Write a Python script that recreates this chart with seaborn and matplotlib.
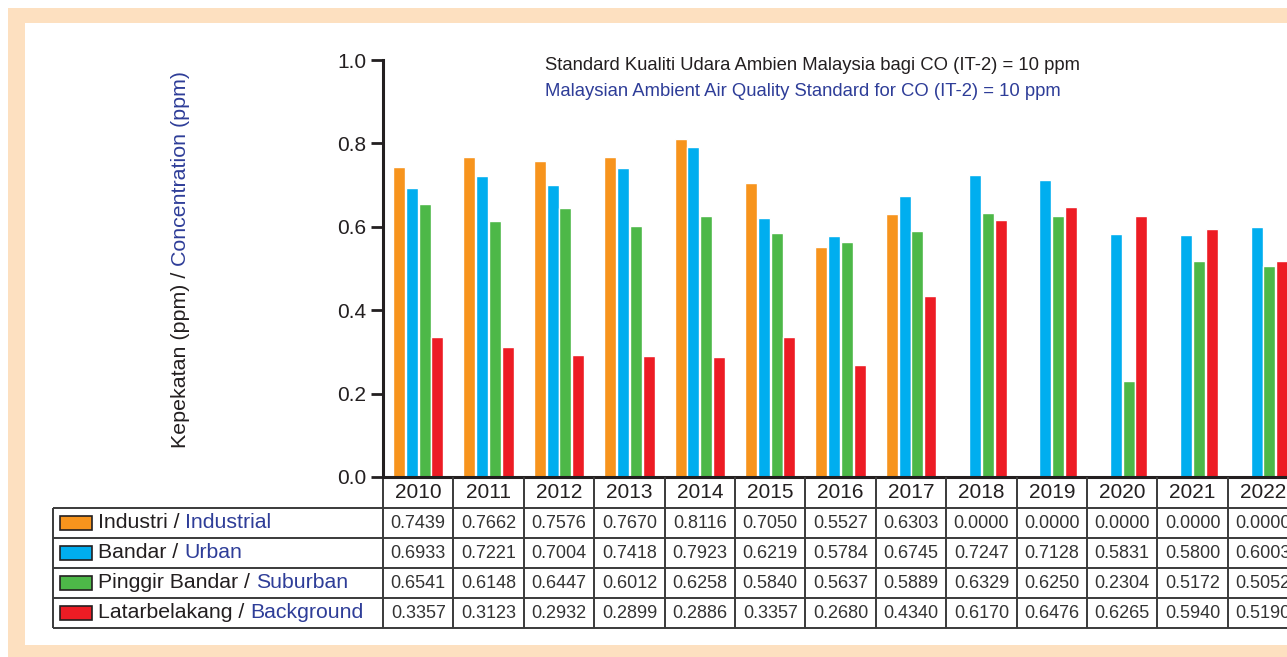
import matplotlib
matplotlib.use("Agg")
import numpy as np
import pandas as pd
import matplotlib.pyplot as plt
import seaborn as sns
from matplotlib.patches import Rectangle
from matplotlib import font_manager

sns.set_theme(style="white")
plt.rcParams["font.family"] = ["Liberation Sans", "DejaVu Sans"]

# Data (ppm CO)
years = ["2010", "2011", "2012", "2013", "2014", "2015", "2016",
         "2017", "2018", "2019", "2020", "2021", "2022"]
sites_ms = ["Industri", "Bandar", "Pinggir Bandar", "Latarbelakang"]
sites_en = ["Industrial", "Urban", "Suburban", "Background"]
industrial = [0.7439, 0.7662, 0.7576, 0.7670, 0.8116, 0.7050, 0.5527,
              0.6303, 0.0000, 0.0000, 0.0000, 0.0000, 0.0000]
urban = [0.6933, 0.7221, 0.7004, 0.7418, 0.7923, 0.6219, 0.5784,
         0.6745, 0.7247, 0.7128, 0.5831, 0.5800, 0.6003]
suburban = [0.6541, 0.6148, 0.6447, 0.6012, 0.6258, 0.5840, 0.5637,
            0.5889, 0.6329, 0.6250, 0.2304, 0.5172, 0.5052]
background = [0.3357, 0.3123, 0.2932, 0.2899, 0.2886, 0.3357, 0.2680,
              0.4340, 0.6170, 0.6476, 0.6265, 0.5940, 0.5190]
series = [industrial, urban, suburban, background]

colours = ["#F7941D", "#00AEEF", "#4DB848", "#ED1C24"]
blue_txt = "#2E3D98"
dark = "#231F20"
beige = "#FDE0C0"

# condensed font for table numbers if one is installed
installed = {f.name for f in font_manager.fontManager.ttflist}
narrow = [f for f in ["Liberation Sans Narrow", "DejaVu Sans Condensed"] if f in installed]
num_family = narrow[0] if narrow else "Liberation Sans"
num_size = 15 if narrow else 13

rows = []
for s, vals in zip(sites_en, series):
    for y, v in zip(years, vals):
        rows.append({"year": y, "site": s, "value": v})
df = pd.DataFrame(rows)

# layout in pixels
W, H = 1287, 657
axis_x, col_w = 383, 70.4
y_top, y_zero, tab_bottom = 60, 477, 628
label_left, header_h, row_h = 53, 31, 30

fig = plt.figure(figsize=(W / 100, H / 100), dpi=100)
ax = fig.add_axes([axis_x / W, 1 - tab_bottom / H, 1 - axis_x / W, (tab_bottom - y_top) / H])

sns.barplot(data=df, x="year", y="value", hue="site", order=years, hue_order=sites_en,
            palette=colours, saturation=1, width=0.73, gap=0.07, errorbar=None,
            legend=False, ax=ax)

unit = 1.0 / (y_zero - y_top)
x_right = -0.5 + (W - axis_x) / col_w
x_lab = -0.5 - (axis_x - label_left) / col_w
ax.set_xlim(-0.5, x_right)
ax.set_ylim(-(tab_bottom - y_zero) * unit, 1.0)

for s in ["top", "right", "bottom"]:
    ax.spines[s].set_visible(False)
ax.spines["left"].set_bounds(0, 1.0)
ax.spines["left"].set_linewidth(2.2)
ax.spines["left"].set_color(dark)
ax.set_yticks(np.arange(0, 1.01, 0.2))
ax.set_yticklabels([f"{t:.1f}" for t in np.arange(0, 1.01, 0.2)])
ax.tick_params(axis="y", left=True, length=9, width=2, color=dark, labelsize=15,
               labelcolor=dark, pad=3)
ax.set_xticks([])
ax.set_xlabel("")
ax.set_ylabel("")

# table grid
y_head = -header_h * unit
row_y = [y_head - k * row_h * unit for k in range(len(series) + 1)]
line_kw = dict(color="#3a3a3a", clip_on=False)
ax.hlines(0, -0.5, x_right, lw=2.2, color=dark, clip_on=False)
for k, yy in enumerate(row_y):
    ax.hlines(yy, x_lab, x_right, lw=1.4, **line_kw)
ax.vlines(x_lab, row_y[0], row_y[-1], lw=1.4, **line_kw)
for k in range(len(years) + 1):
    ax.vlines(k - 0.5, 0, row_y[-1], lw=1.4, **line_kw)

for i, y in enumerate(years):
    ax.text(i, y_head / 2, y, ha="center", va="center", fontsize=15, color=dark)

for r, vals in enumerate(series):
    yc = (row_y[r] + row_y[r + 1]) / 2
    for i, v in enumerate(vals):
        ax.text(i, yc, f"{v:.4f}", ha="center", va="center", fontsize=num_size,
                color="#333333", family=num_family)
    ax.add_patch(Rectangle((x_lab + 7 / col_w, yc - 7 * unit), 32 / col_w, 14 * unit,
                           facecolor=colours[r], edgecolor=dark, lw=1.2, clip_on=False))
    t1 = ax.text(x_lab + 45 / col_w, yc, f"{sites_ms[r]} / ", ha="left", va="center",
                 fontsize=15.3, color=dark)
    ax.annotate(sites_en[r], xy=(1, 0), xycoords=t1, ha="left", va="bottom",
                fontsize=15.3, color=blue_txt)

# y label in two colours
yl = fig.text(180 / W, 1 - 448 / H, "Kepekatan (ppm) / ", rotation=90, ha="center",
              va="bottom", fontsize=15.4, color=dark)
ax.annotate("Concentration (ppm)", xy=(0.5, 1), xycoords=yl, rotation=90, ha="center",
            va="bottom", fontsize=15.4, color=blue_txt, annotation_clip=False)

# standard note
fig.text(545 / W, 1 - 65 / H, "Standard Kualiti Udara Ambien Malaysia bagi CO (IT-2) = 10 ppm",
         ha="left", va="center", fontsize=13.3, color=dark)
fig.text(545 / W, 1 - 92 / H, "Malaysian Ambient Air Quality Standard for CO (IT-2) = 10 ppm",
         ha="left", va="center", fontsize=13.3, color=blue_txt)

# beige frame
for x0, y0, w, h in [(8, 8, W - 8, 15), (8, 8, 17, H - 8), (8, 645, W - 8, 12)]:
    fig.patches.append(Rectangle((x0 / W, 1 - (y0 + h) / H), w / W, h / H,
                                 transform=fig.transFigure, facecolor=beige,
                                 edgecolor="none", zorder=-1))

fig.savefig("out.png", dpi=100)
